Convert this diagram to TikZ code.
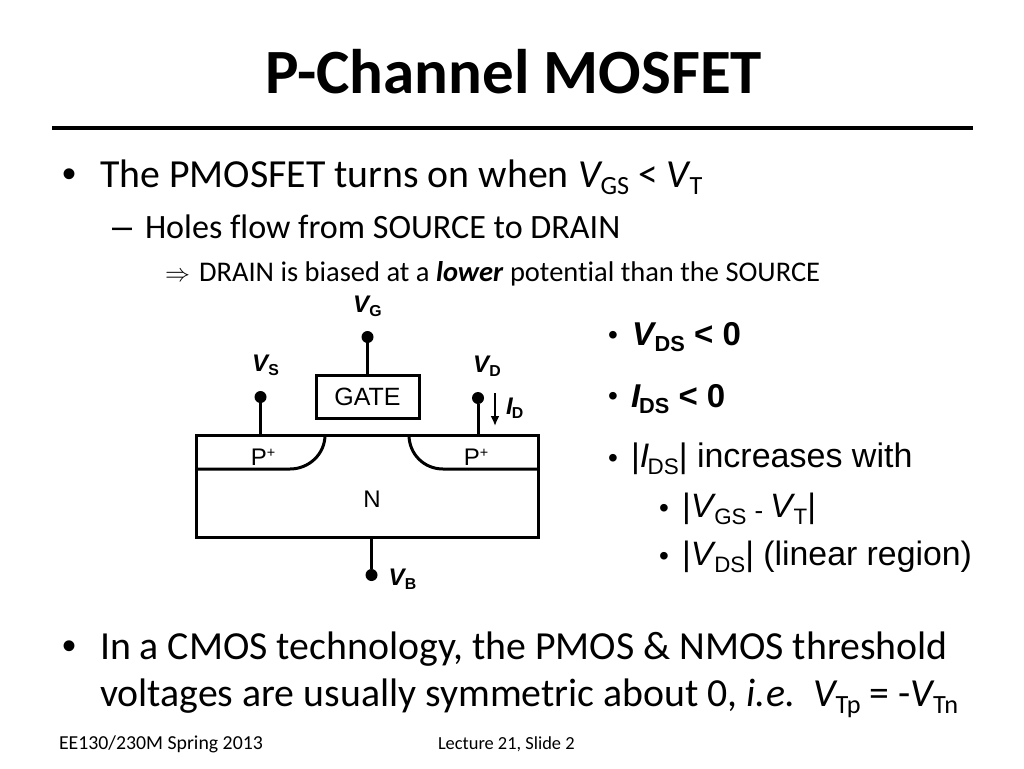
\documentclass[tikz,border=0pt]{standalone}
\usepackage{fontspec}
\usepackage{graphicx}
\usetikzlibrary{arrows.meta}
\setmainfont[Ligatures=NoCommon]{Carlito}
\newfontfamily\arl{Liberation Sans}
\newcommand{\subs}[1]{\kern-.05em\raisebox{-.2em}{\scalebox{.66}{#1}}}
\tikzset{
  txt/.style={anchor=base west,inner sep=0pt,outer sep=0pt,text=black},
  lbl/.style={anchor=base,inner sep=0pt,outer sep=0pt,font=\arl\fontsize{24}{24}\selectfont},
  term/.style={circle,fill=black,draw=none,minimum size=12pt,inner sep=0pt},
  wire/.style={line width=3pt,draw=black},
}
\newcommand{\fs}[1]{\fontsize{#1}{#1}\selectfont}
\begin{document}
\begin{tikzpicture}[x=1pt,y=-1pt]
\useasboundingbox (0,0) rectangle (1024,768);
% title
\node[txt,font=\bfseries\fs{63}] (title) at (265,93) {P-Channel MOSFET};
\coordinate (ruleL) at (52,128); \coordinate (ruleR) at (973,128);
\draw[line width=4pt] (ruleL) -- (ruleR);
% bullets
\node[txt,font=\arl\fs{40}] (b1m) at (62,187) {•};
\node[txt,font=\fs{39.8}] (b1) at (100,187) {The PMOSFET turns on when \textit{V}\subs{GS} < \textit{V}\subs{T}};
\node[txt,font=\arl\fs{36}] (b2m) at (112,238) {–};
\node[txt,font=\fs{34.1}] (b2) at (145,238) {Holes flow from SOURCE to DRAIN};
\node[txt] (b3m) at (165,281) {\resizebox{25pt}{!}{$\Rightarrow$}};
\node[txt,font=\fs{28.5}] (b3) at (199,281) {DRAIN is biased at a \textbf{\textit{lower}} potential than the SOURCE};
\node[txt,font=\arl\fs{40}] (b4m) at (62,659) {•};
\node[txt,font=\fs{39.8}] (b4) at (100,659) {In a CMOS technology, the PMOS \& NMOS threshold};
\node[txt,font=\fs{39.8}] (b5) at (100,706) {voltages are usually symmetric about 0, \textit{i.e.}\ \ \textit{V}\subs{Tp} = -\textit{V}\subs{Tn}};
\node[txt,font=\fs{19.8}] (foot1) at (59,749) {EE130/230M Spring 2013};
\node[txt,font=\fs{18.4}] (foot2) at (438,749) {Lecture 21, Slide 2};
% device
\node[draw=black,line width=3pt,minimum width=342pt,minimum height=102pt,inner sep=0pt] (sub) at (367,486) {};
\node[draw=black,line width=3pt,minimum width=103pt,minimum height=43pt,inner sep=0pt,font=\arl\fs{25}] (gate) at (367.5,396.5) {GATE};
\coordinate (pl0) at (196,469); \coordinate (pl1) at (290,469); \coordinate (pl2) at (325,435);
\coordinate (pr0) at (538,469); \coordinate (pr1) at (443,469); \coordinate (pr2) at (409,435);
\draw[wire] (pl0) -- (pl1) .. controls (309,469) and (325,454) .. (pl2);
\draw[wire] (pr0) -- (pr1) .. controls (424,469) and (409,454) .. (pr2);
\node[term] (vg) at (367.5,337) {};
\node[term] (vs) at (260.5,397) {};
\node[term] (vd) at (478,398) {};
\node[term] (vb) at (371.5,575) {};
\coordinate (ts) at (260.5,435); \coordinate (td) at (478,435); \coordinate (tb) at (371.5,537);
\draw[wire] (vg) -- (gate.north -| vg);
\draw[wire] (vs) -- (ts);
\draw[wire] (vd) -- (td);
\draw[wire] (vb) -- (tb);
\coordinate (ia) at (495,393); \coordinate (ib) at (495,426);
\draw[-{Latex[length=10pt,width=9pt]},line width=2pt] (ia) -- (ib);
\node[lbl,font=\arl\fs{24}] (p1) at (263,465) {P\raisebox{.3em}{\scalebox{.6}{+}}};
\node[lbl,font=\arl\fs{24}] (p2) at (476,465) {P\raisebox{.3em}{\scalebox{.6}{+}}};
\node[lbl,font=\arl\fs{24}] (n) at (372,507) {N};
\node[txt,font=\arl\bfseries\fs{24}] (lvg) at (353,312) {\textit{V}\subs{G}};
\node[txt,font=\arl\bfseries\fs{24}] (lvs) at (252,371) {\textit{V}\subs{S}};
\node[txt,font=\arl\bfseries\fs{24}] (lvd) at (473,372) {\textit{V}\subs{D}};
\node[txt,font=\arl\bfseries\fs{24}] (lid) at (506,414) {\textit{I}\subs{D}};
\node[txt,font=\arl\bfseries\fs{24}] (lvb) at (388.5,585) {\textit{V}\subs{B}};
% right list
\node[txt,font=\arl\fs{28}] (r1m) at (608,344) {•};
\node[txt,font=\arl\bfseries\fs{33}] (r1) at (632,345) {\textit{V}\subs{DS} < 0};
\node[txt,font=\arl\fs{28}] (r2m) at (608,405) {•};
\node[txt,font=\arl\bfseries\fs{33}] (r2) at (631,407) {\textit{I}\subs{DS} < 0};
\node[txt,font=\arl\fs{28}] (r3m) at (608,467) {•};
\node[txt,font=\arl\fs{34}] (r3) at (631,467.5) {|\textit{I}\subs{DS}| increases with};
\node[txt,font=\arl\fs{28}] (r4m) at (659,517) {•};
\node[txt,font=\arl\fs{33.8}] (r4) at (682,517.5) {|\textit{V}\subs{GS}\kern8pt\raisebox{-1.5pt}{\fs{26}-}\kern7pt\textit{V}\subs{T}|};
\node[txt,font=\arl\fs{28}] (r5m) at (659,565) {•};
\node[txt,font=\arl\fs{33.8}] (r5) at (682,565.5) {|\textit{V}\subs{DS}| (linear region)};
\end{tikzpicture}
\end{document}
